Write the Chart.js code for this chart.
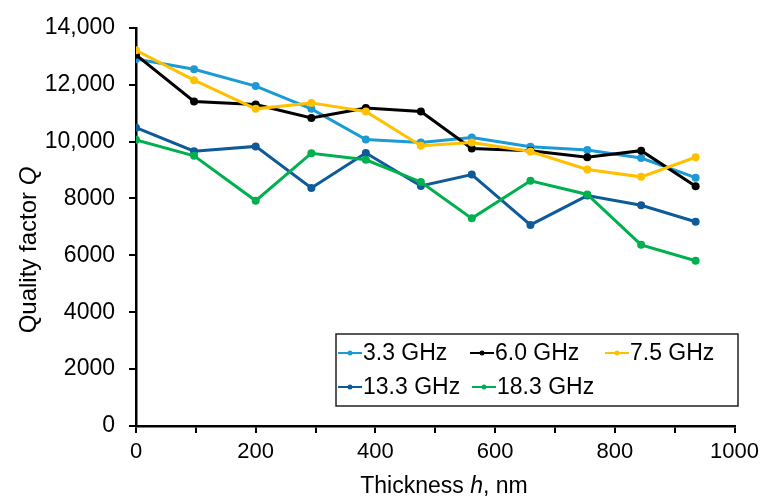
<!DOCTYPE html>
<html>
<head>
<meta charset="utf-8">
<script src="https://cdn.jsdelivr.net/npm/chart.js@4"></script>
<style>
  html, body { margin: 0; padding: 0; background: #fff; }
  #wrap { width: 765px; height: 501px; position: relative; }
</style>
</head>
<body>
<div id="wrap"><canvas id="qChart" width="765" height="501"></canvas></div>
<script>
// thickness h (nm) and quality factor Q for each frequency
const thickness = [0, 97, 200, 293, 384, 476, 561, 659, 754, 844, 935];
const q33 = [12900, 12540, 11950, 11150, 10070, 9970, 10140, 9820, 9700, 9420, 8730];
const q60 = [13050, 11410, 11300, 10830, 11180, 11060, 9760, 9680, 9450, 9680, 8430];
const q75 = [13210, 12160, 11150, 11360, 11060, 9850, 9970, 9650, 9020, 8760, 9450];
const q133 = [10490, 9660, 9830, 8370, 9600, 8440, 8840, 7070, 8100, 7760, 7180];
const q183 = [10060, 9500, 7920, 9590, 9360, 8580, 7300, 8620, 8140, 6370, 5810];

const seriesNames = ["3.3 GHz", "6.0 GHz", "7.5 GHz", "13.3 GHz", "18.3 GHz"];
const seriesData = [q33, q60, q75, q133, q183];
const seriesColors = ["#1B9AD6", "#000000", "#FFC000", "#0F5B99", "#00B050"];

const FONT = '"Liberation Sans", Arial, sans-serif';

const datasets = seriesNames.map((name, i) => ({
  label: name,
  data: thickness.map((h, j) => ({ x: h, y: seriesData[i][j] })),
  borderColor: seriesColors[i],
  backgroundColor: seriesColors[i],
  borderWidth: 3,
  pointRadius: 4,
  pointHoverRadius: 4,
  pointBorderWidth: 0,
  tension: 0,
  order: 5 - i
}));

// axis titles (with italic symbol) and the boxed legend
const decorPlugin = {
  id: "decor",
  afterDraw(chart) {
    const ctx = chart.ctx;
    ctx.save();
    ctx.fillStyle = "#000";
    ctx.textBaseline = "middle";

    function mixed(parts, cx, cy, size) {
      let w = 0;
      parts.forEach(p => {
        ctx.font = (p[1] ? "italic " : "") + size + "px " + FONT;
        w += ctx.measureText(p[0]).width;
      });
      let x = cx - w / 2;
      parts.forEach(p => {
        ctx.font = (p[1] ? "italic " : "") + size + "px " + FONT;
        ctx.textAlign = "left";
        ctx.fillText(p[0], x, cy);
        x += ctx.measureText(p[0]).width;
      });
    }

    mixed([["Thickness ", false], ["h", true], [", nm", false]], 444, 487, 23);

    ctx.save();
    ctx.translate(29, 250);
    ctx.rotate(-Math.PI / 2);
    mixed([["Quality factor ", false], ["Q", true]], 0, 0, 24);
    ctx.restore();

    // legend box
    const bx = 336, by = 334, bw = 402, bh = 72;
    ctx.fillStyle = "#fff";
    ctx.fillRect(bx, by, bw, bh);
    ctx.strokeStyle = "#222";
    ctx.lineWidth = 1.5;
    ctx.strokeRect(bx, by, bw, bh);

    const itemPos = [[338, 353], [470, 353], [605, 353], [338, 387], [472, 387]];
    ctx.font = "23px " + FONT;
    ctx.textAlign = "left";
    seriesNames.forEach((name, i) => {
      const [x, y] = itemPos[i];
      ctx.strokeStyle = seriesColors[i];
      ctx.lineWidth = 2;
      ctx.beginPath();
      ctx.moveTo(x, y);
      ctx.lineTo(x + 24, y);
      ctx.stroke();
      ctx.fillStyle = seriesColors[i];
      ctx.beginPath();
      ctx.arc(x + 12, y, 2.5, 0, Math.PI * 2);
      ctx.fill();
      ctx.fillStyle = "#000";
      ctx.fillText(name, x + 25, y + 1);
    });
    ctx.restore();
  }
};

new Chart(document.getElementById("qChart"), {
  type: "line",
  data: { datasets },
  options: {
    responsive: false,
    animation: false,
    layout: { padding: { left: 0, right: 28, top: 22, bottom: 0 } },
    plugins: {
      legend: { display: false },
      tooltip: { enabled: false }
    },
    scales: {
      x: {
        type: "linear",
        min: 0,
        max: 1000,
        afterFit: s => { s.height = 75; },
        border: { display: true, color: "#000", width: 2.5 },
        grid: { display: true, drawOnChartArea: false, drawTicks: true, tickLength: 7, color: "#000", lineWidth: 2 },
        ticks: {
          stepSize: 100,
          autoSkip: false,
          maxRotation: 0,
          padding: 6,
          color: "#000",
          font: { family: FONT, size: 22 },
          callback: v => (v % 200 === 0 ? String(v) : "")
        }
      },
      y: {
        min: 0,
        max: 14000,
        afterFit: s => { s.width = 136; },
        border: { display: true, color: "#000", width: 2.5 },
        grid: { display: true, drawOnChartArea: false, drawTicks: true, tickLength: 7, color: "#000", lineWidth: 2 },
        ticks: {
          stepSize: 2000,
          padding: 14,
          color: "#000",
          font: { family: FONT, size: 23 },
          callback: v => (v >= 10000 ? v.toLocaleString("en-US") : String(v))
        }
      }
    }
  },
  plugins: [decorPlugin]
});
</script>
</body>
</html>
